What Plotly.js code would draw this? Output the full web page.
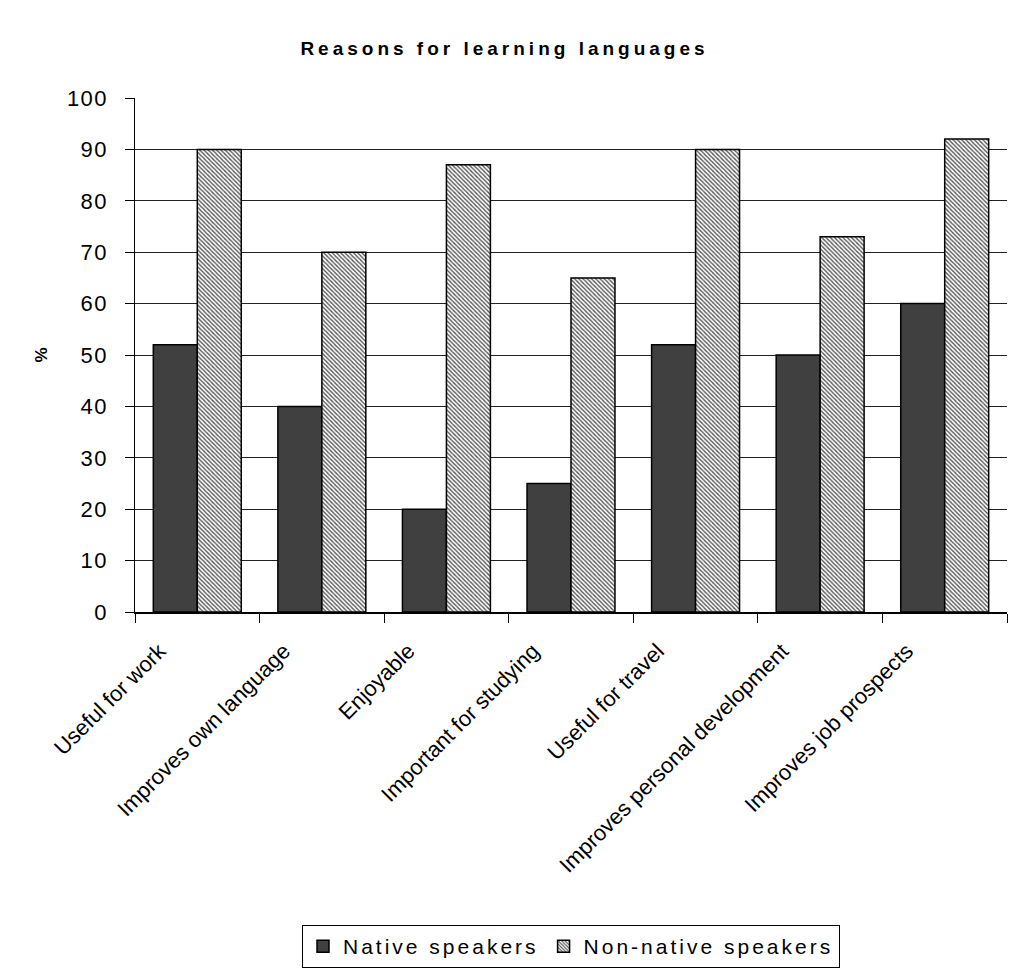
<!DOCTYPE html>
<html>
<head>
<meta charset="utf-8">
<script src="https://cdn.plot.ly/plotly-3.0.1.min.js"></script>
<style>
html,body{margin:0;padding:0;background:#fff;}
#chart{width:1009px;height:968px;}
.gtitle{letter-spacing:4px;}
.legendtext{letter-spacing:3px;}
.ytick text{letter-spacing:1.5px;}
</style>
</head>
<body>
<div id="chart"></div>
<script>
const categories = ["Useful for work","Improves own language","Enjoyable","Important for studying","Useful for travel","Improves personal development","Improves job prospects"];
const nativeSpeakers = [52,40,20,25,52,50,60];
const nonNativeSpeakers = [90,70,87,65,90,73,92];
const yTicks = [0,10,20,30,40,50,60,70,80,90,100];

const font = "'Liberation Sans', Arial, sans-serif";

const traces = [
  {
    type:"bar", name:"Native speakers", x:categories, y:nativeSpeakers,
    marker:{color:"#404040", line:{color:"#000", width:1.5}}
  },
  {
    type:"bar", name:"Non-native speakers", x:categories, y:nonNativeSpeakers,
    marker:{color:"#ffffff", line:{color:"#000", width:1.5},
      pattern:{shape:"\\", fgcolor:"#555", bgcolor:"#ffffff", size:3, solidity:0.45}}
  }
];

const layout = {
  width:1009, height:968,
  paper_bgcolor:"#fff", plot_bgcolor:"#fff",
  margin:{l:135, r:2, t:98, b:356},
  font:{family:font, color:"#000", size:20},
  title:{text:"<b>Reasons for learning languages</b>", font:{family:font, size:19, color:"#000"}, x:0.5, xref:"container", xanchor:"center", y:0.95, yanchor:"middle", yref:"container"},
  barmode:"group", bargap:0.294, bargroupgap:0,
  showlegend:true,
  legend:{orientation:"h", x:0.5, xanchor:"center", xref:"paper", y:0, yanchor:"bottom", yref:"container",
    bordercolor:"#000", borderwidth:1, font:{family:font, size:21, color:"#000"},
    traceorder:"normal", itemwidth:30},
  xaxis:{
    type:"category", tickson:"boundaries", ticks:"outside", ticklen:9, tickcolor:"#000",
    showline:true, linecolor:"#000", linewidth:1.5, showgrid:false,
    tickangle:-45, tickfont:{family:font, size:22, color:"#000"}, automargin:false,
    ticklabelstandoff:16, ticklabelshift:-38
  },
  yaxis:{
    range:[0,100], tickvals:yTicks, ticks:"outside", ticklen:9, tickcolor:"#000",
    showline:true, linecolor:"#000", linewidth:1.5,
    showgrid:true, gridcolor:"#222", gridwidth:1,
    tickfont:{family:font, size:22, color:"#000"}, automargin:false,
    ticklabelstandoff:12,
    title:{text:"<b>%</b>", font:{family:font, size:17, color:"#000"}, standoff:15}
  }
};

Plotly.newPlot("chart", traces, layout, {displayModeBar:false, staticPlot:true});
</script>
</body>
</html>
